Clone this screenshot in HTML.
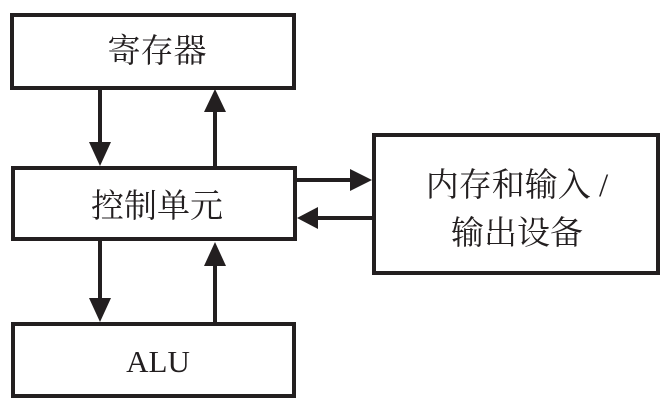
<!DOCTYPE html>
<html><head><meta charset="utf-8"><style>
html,body{margin:0;padding:0;background:#fff;width:669px;height:411px;overflow:hidden}
</style></head><body>
<svg width="669" height="411" viewBox="0 0 669 411" xmlns="http://www.w3.org/2000/svg">
<g fill="none" stroke="#231f20" stroke-width="4">
<rect x="12" y="15" width="282" height="73"/>
<rect x="13" y="168" width="282" height="71"/>
<rect x="13" y="324" width="281" height="72"/>
<rect x="374" y="135" width="284" height="138"/>
<line x1="100" y1="89" x2="100" y2="150"/>
<line x1="215" y1="166" x2="215" y2="108"/>
<line x1="100" y1="241" x2="100" y2="305"/>
<line x1="215" y1="322" x2="215" y2="258"/>
<line x1="297" y1="180" x2="355" y2="180"/>
<line x1="372" y1="218" x2="312" y2="218"/>
</g>
<g fill="#231f20">
<polygon points="89,142 111,142 100,166"/>
<polygon points="204,112 226,112 215,89"/>
<polygon points="89,298 111,298 100,322"/>
<polygon points="204,266 226,266 215,242"/>
<polygon points="350,169 350,191 372,180"/>
<polygon points="318,207 318,229 297,218"/>
</g>
<g font-family="'Liberation Serif','Noto Serif CJK SC',serif" font-size="33" fill="#231f20" text-anchor="middle">
<text x="157" y="62">寄存器</text>
<text x="157" y="217">控制单元</text>
<text x="158" y="372" font-size="31">ALU</text>
<text x="517" y="196">内存和输入 /</text>
<text x="517" y="244">输出设备</text>
</g>
</svg>
</body></html>
